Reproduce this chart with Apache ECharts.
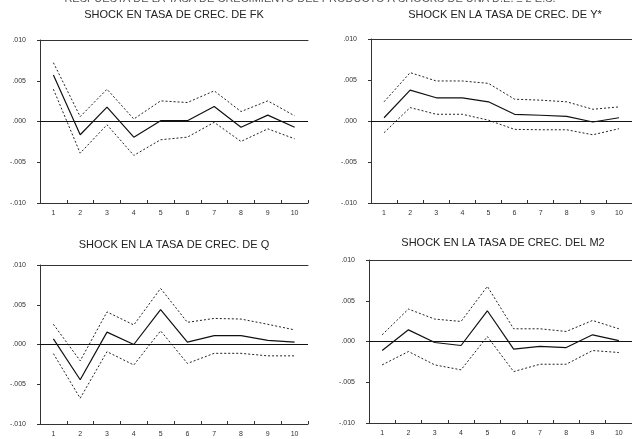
<!DOCTYPE html>
<html><head><meta charset="utf-8">
<script src="https://cdn.jsdelivr.net/npm/echarts@6/dist/echarts.min.js"></script>
<style>html,body{margin:0;padding:0;background:#fff}#c{width:632px;height:439px}</style>
</head><body><div id="c"></div>
<script>
var periods = ['1','2','3','4','5','6','7','8','9','10'];
var yTicks = [-0.010, -0.005, 0.000, 0.005, 0.010];
var mainTitle = 'RESPUESTA DE LA TASA DE CRECIMIENTO DEL PRODUCTO A SHOCKS DE UNA D.E. ± 2 E.S.';
var panelTitles = ['SHOCK EN TASA DE CREC. DE FK', 'SHOCK EN LA TASA DE CREC. DE Y*', 'SHOCK EN LA TASA DE CREC. DE Q', 'SHOCK EN LA TASA DE CREC. DEL M2'];

var fkResp  = [0.00571, -0.00163, 0.00176, -0.00192, 0.0001, 0.0001, 0.00184, -0.0007, 0.00078, -0.0007];
var fkUpper = [0.00722, 0.0006, 0.00396, 0.0003, 0.00253, 0.00233, 0.00376, 0.00122, 0.00253, 0.0007];
var fkLower = [0.00396, -0.00388, -0.0004, -0.00416, -0.00224, -0.00192, -0.0001, -0.00245, -0.0009, -0.00212];

var ysResp  = [0.0004, 0.00377, 0.00283, 0.00283, 0.00234, 0.00082, 0.0007, 0.00057, -0.00012, 0.0004];
var ysUpper = [0.00234, 0.0059, 0.00488, 0.00488, 0.00459, 0.00266, 0.00254, 0.00234, 0.00143, 0.00172];
var ysLower = [-0.00143, 0.00164, 0.00082, 0.00082, 0.0001, -0.00102, -0.00107, -0.00107, -0.00168, -0.00094];

var qResp  = [0.0007, -0.00443, 0.00156, 0.0, 0.00439, 0.00029, 0.00111, 0.00111, 0.00053, 0.00029];
var qUpper = [0.00254, -0.00205, 0.0041, 0.00246, 0.00705, 0.00279, 0.00328, 0.0032, 0.00254, 0.00184];
var qLower = [-0.00115, -0.00676, -0.0009, -0.00258, 0.00172, -0.00238, -0.00111, -0.00111, -0.00143, -0.00143];

var m2Resp  = [-0.00111, 0.00143, -0.00012, -0.00049, 0.00377, -0.00094, -0.00061, -0.00074, 0.00082, 0.0001];
var m2Upper = [0.00082, 0.00398, 0.00275, 0.00246, 0.00676, 0.00156, 0.00156, 0.00123, 0.00258, 0.00156];
var m2Lower = [-0.00287, -0.00123, -0.00287, -0.00348, 0.00061, -0.00369, -0.00279, -0.00279, -0.00111, -0.00135];

var panels = [
  {resp: fkResp, up: fkUpper, lo: fkLower},
  {resp: ysResp, up: ysUpper, lo: ysLower},
  {resp: qResp, up: qUpper, lo: qLower},
  {resp: m2Resp, up: m2Upper, lo: m2Lower}
];

var grids = [
  {left: 40, top: 40, width: 268, height: 163},
  {left: 371, top: 39, width: 267, height: 164},
  {left: 40, top: 265, width: 268, height: 159},
  {left: 369, top: 260, width: 267, height: 163}
];
var titleY = [15, 15, 245, 243];
var font = 'Liberation Sans, Arial, sans-serif';
var axisCol = '#333';

function fmt(v){
  var s = Math.abs(v).toFixed(3).replace(/^0/, '');
  return (v < -1e-9 ? '-' : '') + s;
}

var option = {backgroundColor: '#fff', animation: false, grid: [], xAxis: [], yAxis: [], series: [], graphic: []};
grids.forEach(function(g, i){
  option.grid.push({left: g.left, top: g.top, width: g.width, height: g.height, containLabel: false});
  option.xAxis.push({type: 'category', gridIndex: i, data: periods, boundaryGap: true,
    axisLine: {show: true, onZero: false, lineStyle: {color: axisCol, width: 1}},
    axisTick: {show: true, inside: true, length: 3, alignWithLabel: false, lineStyle: {color: axisCol}},
    axisLabel: {fontSize: 7, color: '#333', fontFamily: font, margin: 7},
    splitLine: {show: false}});
  option.xAxis.push({type: 'category', gridIndex: i, data: periods, position: 'top',
    axisLine: {show: true, onZero: false, lineStyle: {color: axisCol, width: 1}},
    axisTick: {show: false}, axisLabel: {show: false}, splitLine: {show: false}});
  option.yAxis.push({type: 'value', gridIndex: i, min: yTicks[0], max: yTicks[yTicks.length-1], interval: 0.005,
    axisLine: {show: true, onZero: false, lineStyle: {color: axisCol, width: 1}},
    axisTick: {show: true, inside: false, length: 3, lineStyle: {color: axisCol}},
    axisLabel: {fontSize: 7, color: '#333', fontFamily: font, margin: 14, formatter: fmt},
    splitLine: {show: false}});
  var p = panels[i];
  var xi = i * 2;
  option.series.push({type: 'line', xAxisIndex: xi, yAxisIndex: i, data: p.resp, symbol: 'none',
    lineStyle: {color: '#111', width: 1.2},
    markLine: {silent: true, symbol: 'none', label: {show: false},
      lineStyle: {color: '#111', type: 'solid', width: 1.2}, data: [{yAxis: 0}]}});
  option.series.push({type: 'line', xAxisIndex: xi, yAxisIndex: i, data: p.up, symbol: 'none',
    lineStyle: {color: '#222', width: 1, type: [2, 2]}});
  option.series.push({type: 'line', xAxisIndex: xi, yAxisIndex: i, data: p.lo, symbol: 'none',
    lineStyle: {color: '#222', width: 1, type: [2, 2]}});
  option.graphic.push({type: 'text', x: g.left + 134, y: titleY[i],
    style: {text: panelTitles[i], fontSize: 11, fontFamily: font, fill: '#222', textAlign: 'center', textVerticalAlign: 'middle'}});
});
option.graphic.push({type: 'text', x: 310, y: -7,
  style: {text: mainTitle, fontSize: 11, fontFamily: font, fill: '#555', textAlign: 'center', textVerticalAlign: 'top'}});

var chart = echarts.init(document.getElementById('c'), null, {renderer: 'canvas'});
chart.setOption(option);
</script></body></html>
